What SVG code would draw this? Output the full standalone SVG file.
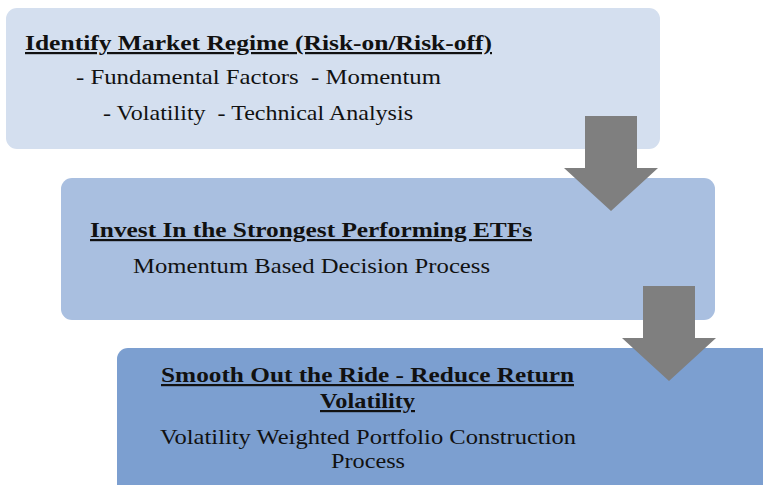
<svg xmlns="http://www.w3.org/2000/svg" width="763" height="485" viewBox="0 0 763 485">
  <style>
    .t { fill: #111111; font-size: 22px; }
    .h { font-weight: bold; text-decoration: underline; }
    .arrow { fill: #7F7F7F; }
  </style>
  <rect width="763" height="485" fill="#FFFFFF"/>

  <g font-family="Liberation Serif, Times New Roman, serif">
    <g id="step1">
      <rect x="6" y="8" width="654" height="141" rx="11" fill="#D4DFEF"/>
      <text class="t h" x="25" y="50" textLength="467" lengthAdjust="spacingAndGlyphs">Identify Market Regime (Risk-on/Risk-off)</text>
      <text class="t" x="76" y="84" textLength="365" lengthAdjust="spacingAndGlyphs" xml:space="preserve">- Fundamental Factors  - Momentum</text>
      <text class="t" x="103" y="120" textLength="310" lengthAdjust="spacingAndGlyphs" xml:space="preserve">- Volatility  - Technical Analysis</text>
    </g>

    <g id="step2">
      <rect x="61" y="178" width="654" height="142" rx="11" fill="#A9BFE0"/>
      <text class="t h" x="90" y="237" textLength="442" lengthAdjust="spacingAndGlyphs">Invest In the Strongest Performing ETFs</text>
      <text class="t" x="133" y="273" textLength="357" lengthAdjust="spacingAndGlyphs">Momentum Based Decision Process</text>
    </g>

    <g id="step3">
      <rect x="117" y="348" width="660" height="150" rx="11" fill="#7C9FD0"/>
      <text class="t h" x="161" y="382" textLength="413" lengthAdjust="spacingAndGlyphs">Smooth Out the Ride - Reduce Return</text>
      <text class="t h" x="320" y="408" textLength="95" lengthAdjust="spacingAndGlyphs">Volatility</text>
      <text class="t" x="160" y="444" textLength="416" lengthAdjust="spacingAndGlyphs">Volatility Weighted Portfolio Construction</text>
      <text class="t" x="331" y="468" textLength="74" lengthAdjust="spacingAndGlyphs">Process</text>
    </g>
  </g>

  <g id="connectors">
    <polygon class="arrow" points="585,116 637,116 637,168 658,168 611,211 564,168 585,168"/>
    <polygon class="arrow" points="643,286 695,286 695,338 716,338 669,381 622,338 643,338"/>
  </g>
</svg>
